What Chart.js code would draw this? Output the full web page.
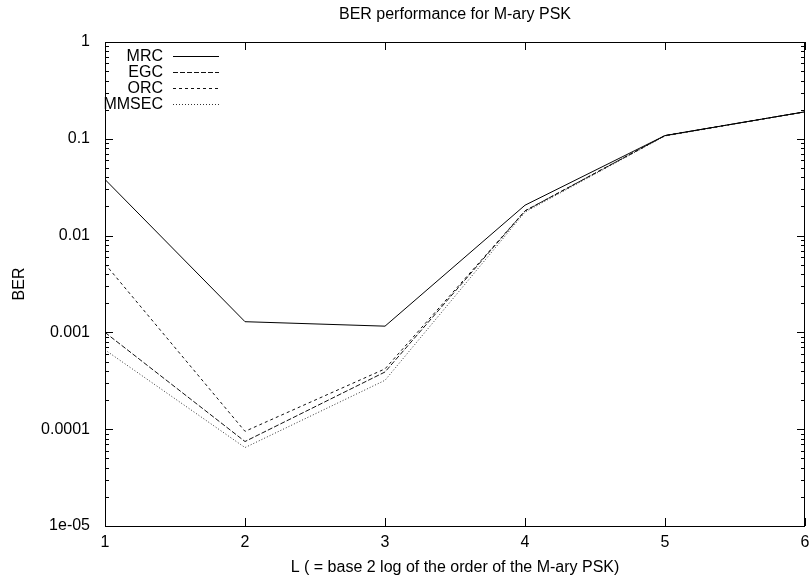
<!DOCTYPE html>
<html>
<head>
<meta charset="utf-8">
<script src="https://cdn.jsdelivr.net/npm/chart.js@4/dist/chart.umd.min.js"></script>
<style>
  html, body { margin: 0; padding: 0; background: #fff; }
  #wrap { width: 809px; height: 579px; }
</style>
</head>
<body>
<div id="wrap"><canvas id="ber"></canvas></div>
<script>
// data
const xValues = [1, 2, 3, 4, 5, 6];
const mrc   = [0.038, 0.00129, 0.00116, 0.0206, 0.108, 0.19];
const egc   = [0.001, 0.0000746, 0.00039, 0.018, 0.108, 0.19];
const orc   = [0.0051, 0.000095, 0.00042, 0.018, 0.108, 0.19];
const mmsec = [0.00066, 0.0000646, 0.00032, 0.0175, 0.107, 0.19];
const seriesNames = ["MRC", "EGC", "ORC", "MMSEC"];
const yTickValues = [1, 0.1, 0.01, 0.001, 0.0001, 0.00001];
const yTickLabels = ["1", "0.1", "0.01", "0.001", "0.0001", "1e-05"];

const FONT = "Liberation Sans, Arial, Helvetica, sans-serif";
const FSIZE = 16;

function pts(ys) {
  return xValues.map((x, i) => ({ x: x, y: ys[i] }));
}

// gnuplot style inward ticks on all four sides + key + title
const gnuplotBits = {
  id: "gnuplotBits",
  afterDatasetsDraw(chart) {
    const ctx = chart.ctx;
    const a = chart.chartArea;
    const xs = chart.scales.x, ys = chart.scales.y;
    ctx.save();
    ctx.strokeStyle = "#000";
    ctx.lineWidth = 1;
    ctx.setLineDash([]);
    ctx.beginPath();
    // x major ticks, bottom and top
    xValues.forEach(v => {
      const px = Math.round(xs.getPixelForValue(v)) + 0.5;
      ctx.moveTo(px, a.bottom); ctx.lineTo(px, a.bottom - 8);
      ctx.moveTo(px, a.top); ctx.lineTo(px, a.top + 8);
    });
    // y major + minor ticks, left and right
    yTickValues.forEach(v => {
      for (let m = 1; m <= 9; m++) {
        const val = v * m;
        if (val > 1) break;
        const py = Math.round(ys.getPixelForValue(val)) + 0.5;
        const len = m === 1 ? 8 : 4;
        ctx.moveTo(a.left, py); ctx.lineTo(a.left + len, py);
        ctx.moveTo(a.right, py); ctx.lineTo(a.right - len, py);
      }
    });
    ctx.stroke();
    ctx.strokeRect(Math.round(a.left) + 0.5, Math.round(a.top) + 0.5,
      Math.round(a.right - a.left) - 1, Math.round(a.bottom - a.top));

    // key
    ctx.font = FSIZE + "px " + FONT;
    ctx.fillStyle = "#000";
    ctx.textAlign = "right";
    ctx.textBaseline = "middle";
    chart.data.datasets.forEach((ds, i) => {
      const y = 56 + i * 16;
      ctx.fillText(ds.label, 163, y + 1);
      ctx.beginPath();
      ctx.setLineDash(ds.borderDash || []);
      ctx.strokeStyle = ds.borderColor;
      ctx.moveTo(173, y + 0.5); ctx.lineTo(219, y + 0.5);
      ctx.stroke();
    });
    ctx.setLineDash([]);

    // title
    ctx.textAlign = "center";
    ctx.fillStyle = "#000";
    ctx.fillText("BER performance for M-ary PSK", (a.left + a.right) / 2, 15);
    ctx.restore();
  }
};

const styles = [
  { color: "#000", dash: [] },
  { color: "#111", dash: [5, 2] },
  { color: "#111", dash: [3, 3] },
  { color: "#333", dash: [1, 2] }
];
const seriesData = [mrc, egc, orc, mmsec];

new Chart(document.getElementById("ber"), {
  type: "line",
  data: {
    datasets: seriesData.map((ys, i) => ({
      label: seriesNames[i],
      data: pts(ys),
      borderColor: styles[i].color,
      borderDash: styles[i].dash,
      borderWidth: 1,
      pointRadius: 0,
      tension: 0,
      fill: false
    }))
  },
  options: {
    responsive: true,
    maintainAspectRatio: false,
    animation: false,
    layout: { padding: { top: 42, right: 4, left: 0, bottom: 0 } },
    plugins: {
      legend: { display: false },
      title: { display: false },
      tooltip: { enabled: false }
    },
    scales: {
      x: {
        type: "linear",
        min: 1,
        max: 6,
        afterFit(scale) {
          scale.height = 53;
          scale.paddingLeft = 0;
          scale.paddingRight = 0;
        },
        afterBuildTicks(scale) { scale.ticks = xValues.map(v => ({ value: v })); },
        grid: { display: false, drawTicks: false },
        border: { display: false },
        ticks: {
          color: "#000",
          font: { family: FONT, size: FSIZE },
          padding: 7,
          maxRotation: 0
        },
        title: {
          display: true,
          text: "L ( = base 2 log of the order of the M-ary PSK)",
          color: "#000",
          font: { family: FONT, size: FSIZE },
          padding: { top: 0, bottom: 2 }
        }
      },
      y: {
        type: "logarithmic",
        min: 0.00001,
        max: 1,
        afterFit(scale) { scale.width = 105; },
        afterBuildTicks(scale) { scale.ticks = yTickValues.map(v => ({ value: v })); },
        grid: { display: false, drawTicks: false },
        border: { display: false },
        ticks: {
          color: "#000",
          font: { family: FONT, size: FSIZE },
          padding: 15,
          autoSkip: false,
          callback: (v) => {
            const i = yTickValues.findIndex(t => Math.abs(t - v) / t < 1e-6);
            return i >= 0 ? yTickLabels[i] : "";
          }
        },
        title: {
          display: true,
          text: "BER",
          color: "#000",
          font: { family: FONT, size: FSIZE },
          padding: { top: 10, bottom: 0 }
        }
      }
    }
  },
  plugins: [gnuplotBits]
});
</script>
</body>
</html>
